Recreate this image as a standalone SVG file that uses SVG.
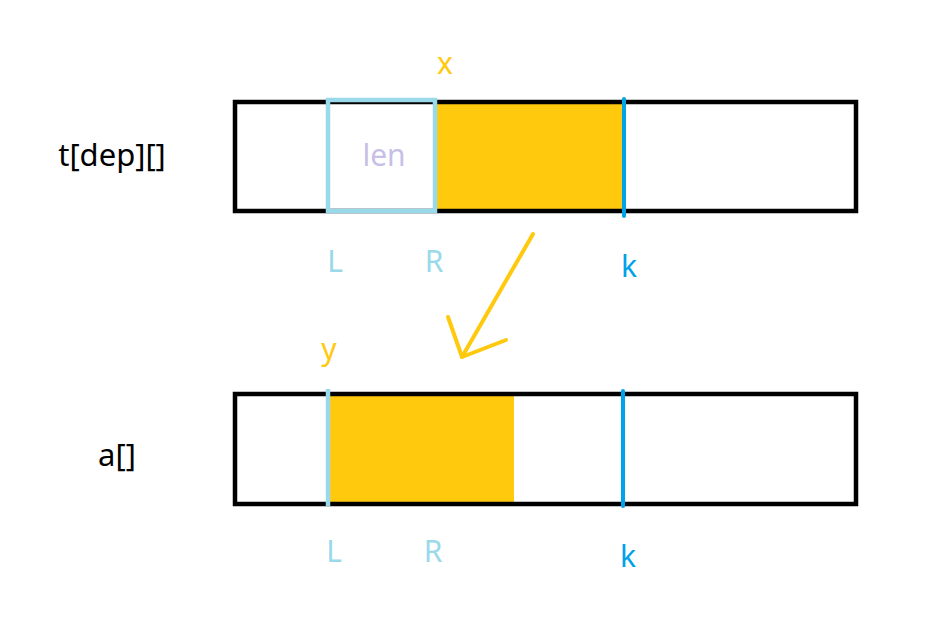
<svg xmlns="http://www.w3.org/2000/svg" width="937" height="636" viewBox="0 0 937 636">
<style>
text{font-family:"Noto Sans","Open Sans",sans-serif;font-size:30px;text-anchor:middle}
.box{fill:none;stroke:#000;stroke-width:4.5}
.fill{fill:#FFC90E}
.lb{fill:#99D9EA}
.k{fill:#00A2E8}
.y{fill:#FFC90E}
.name{fill:#000;font-size:31px}
</style>
<rect width="937" height="636" fill="#fff"/>
<g id="top-array">
<rect class="fill" x="436" y="104" width="187" height="106"/>
<rect class="box" x="235" y="102" width="621" height="109"/>
<rect x="328" y="100" width="107" height="111" fill="none" stroke="#99D9EA" stroke-width="4.5"/>
<line x1="624" y1="99" x2="624" y2="216" stroke="#00A2E8" stroke-width="4" stroke-linecap="round"/>
<text x="384" y="166" fill="#C8BFE7">len</text>
<text class="y" x="445" y="74">x</text>
<text class="lb" x="335" y="272">L</text>
<text class="lb" x="434" y="272">R</text>
<text class="k" x="629" y="277">k</text>
<text class="name" x="112" y="166">t[dep][]</text>
</g>
<g id="bottom-array">
<rect class="fill" x="330" y="396" width="184" height="106"/>
<rect class="box" x="235" y="394" width="621" height="110"/>
<line x1="328" y1="389" x2="328" y2="506" stroke="#99D9EA" stroke-width="4.5"/>
<line x1="623" y1="391" x2="623" y2="506" stroke="#00A2E8" stroke-width="4" stroke-linecap="round"/>
<text class="y" x="329" y="360">y</text>
<text class="lb" x="334" y="562">L</text>
<text class="lb" x="433" y="562">R</text>
<text class="k" x="628" y="567">k</text>
<text class="name" x="117" y="466">a[]</text>
</g>
<g id="connectors" fill="none" stroke="#FFC90E" stroke-width="4" stroke-linecap="round" stroke-linejoin="round">
<path d="M533 234 L462 357"/>
<path d="M448 317 L462 357 L506 340"/>
</g>
</svg>
